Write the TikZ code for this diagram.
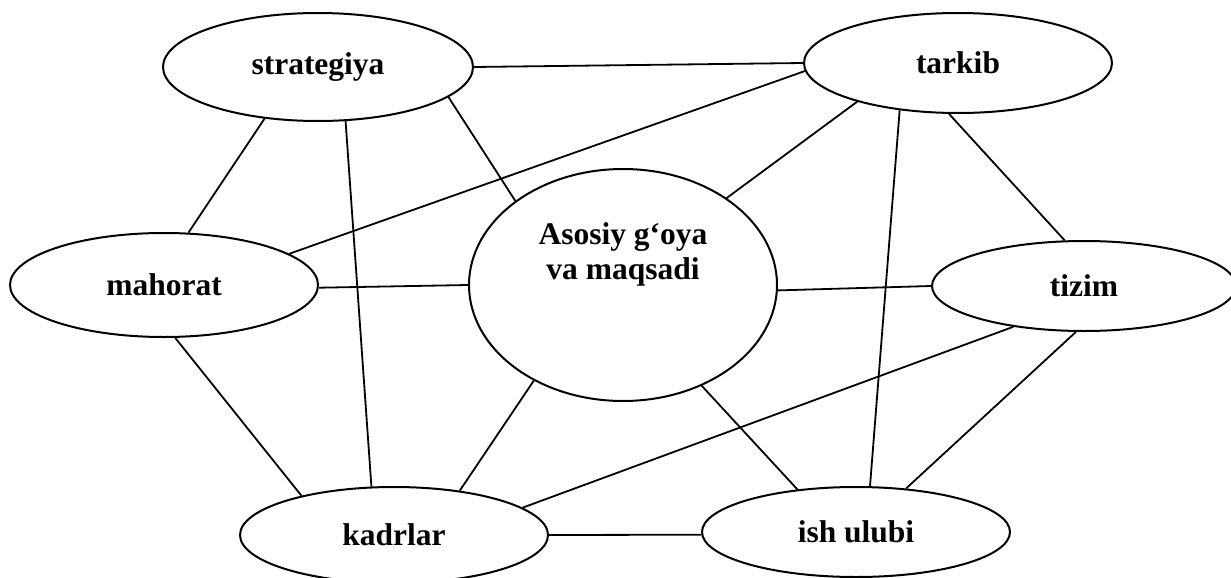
\documentclass[tikz,border=0pt]{standalone}
\usepackage{fontspec}
\setmainfont{Liberation Serif}
\usepackage{tikz}
\usetikzlibrary{shapes.geometric}
\tikzset{
  ebox/.style={ellipse,draw,line width=1pt,inner sep=0pt,
    minimum width=154pt,minimum height=50pt,
    font=\fontsize{15.75}{17.5}\selectfont\bfseries},
  goalbox/.style={ebox,minimum width=154pt,minimum height=116pt},
  ln/.style={line width=0.9pt},
}
\begin{document}
\begin{tikzpicture}[x=0.5pt,y=-0.5pt]
  \useasboundingbox (0,0) rectangle (1231,578);

  \node[ebox,minimum width=155pt,minimum height=54pt] (strat) at (318,67) {strategiya};
  \node[ebox,minimum height=50pt] (tarkib) at (958,63) {tarkib};
  \node[ebox,minimum height=52pt] (mahorat) at (164,285) {mahorat};
  \node[goalbox,label={[font=\fontsize{15.75}{17.5}\selectfont\bfseries,
      align=center,yshift=15.5pt]center:Asosiy g‘oya\\va maqsadi}] (goal) at (623,285) {};
  \node[ebox,minimum width=152pt,minimum height=45pt] (tizim) at (1084,286) {tizim};
  \node[ebox,minimum height=48pt] (kadr) at (394,535) {kadrlar};
  \node[ebox,minimum height=45pt] (ish) at (856,532) {ish ulubi};

  % top row
  \draw[ln] (strat.0.7) -- (tarkib.180.7);
  \draw[ln] (strat.224) -- (mahorat.65);
  \draw[ln] (strat.297) -- (kadr.115.5);
  \draw[ln] (strat.347.8) -- (goal.142.6);
  \draw[ln] (tarkib.183.8) -- (mahorat.14.9);
  \draw[ln] (tarkib.201) -- (goal.40.2);
  \draw[ln] (tarkib.219.3) -- (ish.73.9);
  \draw[ln] (tarkib.260.4) -- (tizim.113.5);

  % middle row
  \draw[ln] (mahorat.359.25) -- (goal.180.75);
  \draw[ln] (goal.358.9) -- (tizim.180.75);
  \draw[ln] (mahorat.282.5) -- (kadr.157);
  \draw[ln] (tizim.210.8) -- (kadr.12.3);
  \draw[ln] (tizim.260.5) -- (ish.41.4);
  \draw[ln] (goal.227.8) -- (kadr.34.1);
  \draw[ln] (goal.308.7) -- (ish.144);

  % bottom row
  \draw[ln] (kadr.east) -- (ish.181.1);
\end{tikzpicture}
\end{document}
